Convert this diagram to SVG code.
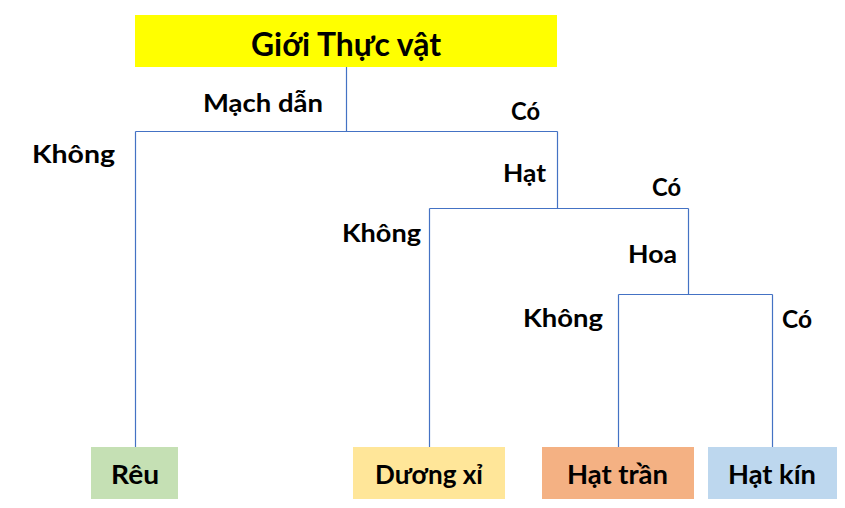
<svg xmlns="http://www.w3.org/2000/svg" width="845" height="508" viewBox="0 0 845 508">
<style>
text{font-family:"Lato","Open Sans","Liberation Sans",sans-serif;font-weight:bold;fill:#000}
.lbl{font-size:24px}
.box{font-size:26px}
.ttl{font-size:32px}
.ln{fill:none;stroke:#4472C4;stroke-width:1.2}
</style>
<rect width="845" height="508" fill="#fff"/>
<g id="connectors">
<path class="ln" d="M346.5 67V131.5M135.5 131.5H557.5M135.5 131.5V447M557.5 131.5V208.5M429.5 208.5H688.5M429.5 208.5V447M688.5 208.5V294.5M618.5 294.5H772.5M618.5 294.5V447M772.5 294.5V447"/>
</g>
<g id="edge-labels">
<text class="lbl" x="203" y="111.5" textLength="120" lengthAdjust="spacingAndGlyphs">Mạch dẫn</text>
<text class="lbl" x="511" y="120" textLength="29" lengthAdjust="spacingAndGlyphs">Có</text>
<text class="lbl" x="32" y="163" textLength="83" lengthAdjust="spacingAndGlyphs">Không</text>
<text class="lbl" x="503" y="182" textLength="43" lengthAdjust="spacingAndGlyphs">Hạt</text>
<text class="lbl" x="652" y="196" textLength="29" lengthAdjust="spacingAndGlyphs">Có</text>
<text class="lbl" x="342" y="242" textLength="79" lengthAdjust="spacingAndGlyphs">Không</text>
<text class="lbl" x="628" y="263" textLength="49" lengthAdjust="spacingAndGlyphs">Hoa</text>
<text class="lbl" x="523" y="327" textLength="80" lengthAdjust="spacingAndGlyphs">Không</text>
<text class="lbl" x="782" y="328" textLength="30" lengthAdjust="spacingAndGlyphs">Có</text>
</g>
<g id="root">
<rect x="135" y="15" width="422" height="52" fill="#FFFF00"/>
<text class="ttl" x="251" y="56" textLength="190" lengthAdjust="spacingAndGlyphs">Giới Thực vật</text>
</g>
<g id="reu">
<rect x="91" y="447" width="87" height="52" fill="#C5E0B4"/>
<text class="box" x="111" y="484" textLength="48" lengthAdjust="spacingAndGlyphs">Rêu</text>
</g>
<g id="duongxi">
<rect x="353" y="447" width="152" height="52" fill="#FFE699"/>
<text class="box" x="375" y="484" textLength="108" lengthAdjust="spacingAndGlyphs">Dương xỉ</text>
</g>
<g id="hattran">
<rect x="542" y="447" width="152" height="52" fill="#F4B183"/>
<text class="box" x="567" y="484" textLength="101" lengthAdjust="spacingAndGlyphs">Hạt trần</text>
</g>
<g id="hatkin">
<rect x="708" y="447" width="129" height="52" fill="#BDD7EE"/>
<text class="box" x="728" y="484" textLength="88" lengthAdjust="spacingAndGlyphs">Hạt kín</text>
</g>
</svg>
